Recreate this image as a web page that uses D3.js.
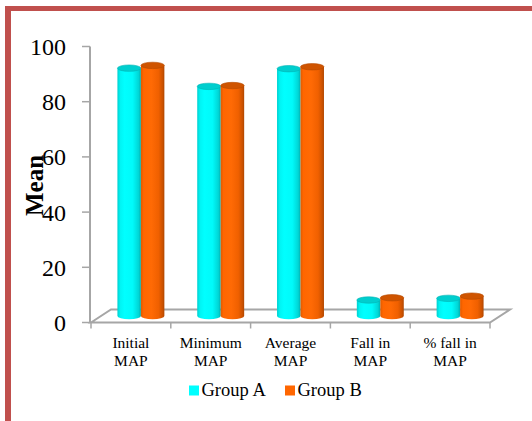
<!DOCTYPE html>
<html>
<head>
<meta charset="utf-8">
<script src="https://cdn.jsdelivr.net/npm/d3@7"></script>
<style>
  html, body { margin: 0; padding: 0; background: #fff; }
  svg { display: block; }
</style>
</head>
<body>
<svg id="chart" width="532" height="421"></svg>
<script>
// Mean arterial pressure, two groups
const categories = [["Initial", "MAP"], ["Minimum", "MAP"], ["Average", "MAP"], ["Fall in", "MAP"], ["% fall in", "MAP"]];
const seriesNames = ["Group A", "Group B"];
const groupA = [89.8, 83.2, 89.6, 5.8, 6.4];
const groupB = [90.8, 83.5, 90.3, 6.6, 7.2];
const yTicks = [0, 20, 40, 60, 80, 100];

const serif = "'Liberation Serif', 'Times New Roman', 'DejaVu Serif', serif";
const svg = d3.select("#chart").attr("font-family", serif);

// frame on the left and top
svg.append("rect").attr("x", 5).attr("y", 6).attr("width", 527).attr("height", 5).attr("fill", "#C0504D");
svg.append("rect").attr("x", 5).attr("y", 6).attr("width", 6).attr("height", 415).attr("fill", "#C0504D");

// 3D projection: depth offset for the back of the floor
const depth = { dx: 20, dy: -13 };
const mid = { dx: depth.dx / 2, dy: depth.dy / 2 };

const y = d3.scaleLinear().domain([0, 100]).range([322.5, 46.5]);
const x = d3.scaleBand().domain(d3.range(categories.length)).range([91, 490]);
const inner = d3.scaleBand().domain([0, 1]).range([0, x.step()]).paddingOuter(0.7).paddingInner(0);

const gridColor = "#A6A6A6";
const defs = svg.append("defs");

function gradient(id, stops) {
  const g = defs.append("linearGradient").attr("id", id).attr("x1", "0").attr("x2", "1").attr("y1", "0").attr("y2", "0");
  stops.forEach(([o, c]) => g.append("stop").attr("offset", o).attr("stop-color", c));
}
gradient("gA", [["0", "#00d0d0"], ["0.12", "#00f4f4"], ["0.3", "#00ffff"], ["0.65", "#00fafa"], ["0.9", "#00d6d6"], ["1", "#00b0b0"]]);
gradient("gB", [["0", "#e05a00"], ["0.12", "#ff6600"], ["0.45", "#ff6a05"], ["0.75", "#f06000"], ["0.92", "#cc5200"], ["1", "#b04600"]]);

const seriesStyle = [
  { data: groupA, fill: "url(#gA)", top: "#00cece", edge: "#00b4b4", key: "#00ffff" },
  { data: groupB, fill: "url(#gB)", top: "#cf5400", edge: "#b54a00", key: "#ff6600" }
];

// floor
const floor = svg.append("g");
const x0 = x.range()[0], x1 = x.range()[1], yb = y(0);
floor.append("path")
  .attr("d", `M${x0},${yb} L${x0 + depth.dx},${yb + depth.dy} L${x1 + depth.dx},${yb + depth.dy} L${x1},${yb} Z`)
  .attr("fill", "none").attr("stroke", gridColor).attr("stroke-width", 2).attr("stroke-linejoin", "miter");

// category ticks on the front edge
d3.range(categories.length + 1).forEach(i => {
  const tx = x0 + i * x.step();
  floor.append("line").attr("x1", tx).attr("x2", tx).attr("y1", yb).attr("y2", yb + 6)
    .attr("stroke", gridColor).attr("stroke-width", 1.5);
});

// value axis
const yAxis = svg.append("g");
yAxis.append("line").attr("x1", 90).attr("x2", 90).attr("y1", y(100)).attr("y2", y(0))
  .attr("stroke", gridColor).attr("stroke-width", 2);
yTicks.forEach(t => {
  yAxis.append("line").attr("x1", 82).attr("x2", 90).attr("y1", y(t)).attr("y2", y(t))
    .attr("stroke", gridColor).attr("stroke-width", 1.5);
  yAxis.append("text").attr("x", 66).attr("y", y(t) + 8.5).attr("text-anchor", "end")
    .attr("font-family", serif).attr("font-size", 24).text(t);
});

// cylinders
const rx = inner.bandwidth() / 2, ry = 3.2;
const bars = svg.append("g");
categories.forEach((c, i) => {
  seriesStyle.forEach((s, k) => {
    const cx = x(i) + inner(k) + rx + mid.dx;
    const yBot = y(0) + mid.dy;
    const yTop = y(s.data[i]) + mid.dy;
    bars.append("path")
      .attr("d", `M${cx - rx},${yTop} L${cx - rx},${yBot} A${rx},${ry} 0 0 0 ${cx + rx},${yBot} L${cx + rx},${yTop} Z`)
      .attr("fill", s.fill);
    bars.append("ellipse").attr("cx", cx).attr("cy", yTop).attr("rx", rx).attr("ry", ry)
      .attr("fill", s.top).attr("stroke", s.edge).attr("stroke-width", 0.6);
  });
});

// category labels
categories.forEach((c, i) => {
  const cx = x(i) + x.bandwidth() / 2;
  const t = svg.append("text").attr("text-anchor", "middle")
    .attr("font-family", serif).attr("font-size", 15.5);
  c.forEach((line, j) => t.append("tspan").attr("x", cx).attr("y", 348 + j * 18).text(line));
});

// axis title
svg.append("text")
  .attr("transform", "translate(43,185.5) rotate(-90)")
  .attr("text-anchor", "middle").attr("font-family", serif)
  .attr("font-size", 25).attr("font-weight", "bold")
  .text("Mean");

// legend
const legendX = [189, 285];
seriesNames.forEach((n, k) => {
  svg.append("rect").attr("x", legendX[k]).attr("y", 385.5).attr("width", 10).attr("height", 10)
    .attr("fill", seriesStyle[k].key);
  svg.append("text").attr("x", legendX[k] + 12.5).attr("y", 396)
    .attr("font-family", serif).attr("font-size", 18.5).text(n);
});
</script>
</body>
</html>
